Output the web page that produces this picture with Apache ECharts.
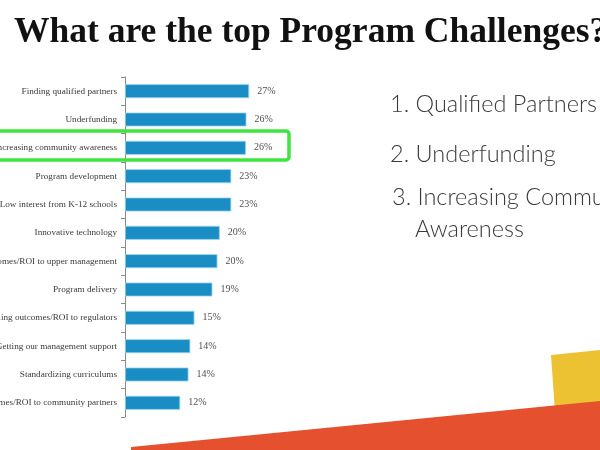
<!DOCTYPE html>
<html>
<head>
<meta charset="utf-8">
<script src="https://cdn.jsdelivr.net/npm/echarts@6/dist/echarts.min.js"></script>
<style>
html,body{margin:0;padding:0;background:#fff;}
#chart{width:600px;height:450px;}
</style>
</head>
<body>
<div id="chart"></div>
<script>
var titleText = "What are the top Program Challenges?";
var categories = [
  "Finding qualified partners",
  "Underfunding",
  "Increasing community awareness",
  "Program development",
  "Low interest from K-12 schools",
  "Innovative technology",
  "Communicating outcomes/ROI to upper management",
  "Program delivery",
  "Modeling outcomes/ROI to regulators",
  "Getting our management support",
  "Standardizing curriculums",
  "Communicating outcomes/ROI to community partners"
];
var values = [27, 26.4, 26.3, 23.1, 23.1, 20.6, 20.1, 19, 15.1, 14.2, 13.8, 12];
var valueLabels = ["27%", "26%", "26%", "23%", "23%", "20%", "20%", "19%", "15%", "14%", "14%", "12%"];
var sideList = ["1. Qualified Partners", "2. Underfunding", "3. Increasing Community", "Awareness"];

var chart = echarts.init(document.getElementById('chart'), null, {renderer: 'canvas'});
var option = {
  backgroundColor: '#ffffff',
  animation: false,
  title: {
    text: titleText,
    left: 14,
    top: 15,
    padding: 0,
    textStyle: {
      fontFamily: 'Liberation Serif',
      fontWeight: 'bold',
      fontSize: 35.5,
      color: '#111111'
    }
  },
  grid: {left: 125, top: 77, width: 276, bottom: 33, containLabel: false, outerBoundsMode: 'none'},
  xAxis: {
    type: 'value', min: 0, max: 60, show: false
  },
  yAxis: {
    type: 'category',
    data: categories,
    inverse: true,
    axisLine: {show: true, lineStyle: {color: '#8a8a8a', width: 1}},
    axisTick: {show: true, length: 4, lineStyle: {color: '#8a8a8a'}},
    axisLabel: {
      margin: 8,
      fontFamily: 'Liberation Serif',
      fontSize: 9.2,
      color: '#3a3a3a'
    }
  },
  series: [{
    type: 'bar',
    data: values,
    barWidth: 14,
    itemStyle: {color: '#1a8ec4', borderColor: '#9fd6f0', borderWidth: 0.8},
    label: {
      show: true,
      position: 'right',
      distance: 8,
      fontFamily: 'Liberation Serif',
      fontSize: 10,
      color: '#505050',
      formatter: function (p) { return valueLabels[p.dataIndex]; }
    }
  }],
  graphic: [
    {
      type: 'polygon', z: 1, silent: true,
      shape: {points: [[551, 355], [600, 350], [600, 412], [555, 412]]},
      style: {fill: '#ecc232'}
    },
    {
      type: 'polygon', z: 2, silent: true,
      shape: {points: [[131, 447], [600, 401], [600, 450], [131, 450]]},
      style: {fill: '#e5502f'}
    },
    {
      type: 'rect', z: 10, silent: true,
      shape: {x: -10, y: 131, width: 299, height: 29, r: 3},
      style: {fill: 'none', stroke: '#3fe43f', lineWidth: 3.5}
    },
    {
      type: 'text', z: 10, left: 390, top: 92,
      style: {text: sideList[0], fontFamily: 'Lato', fontWeight: 300, fontSize: 23.5, fill: '#3a3a3a'}
    },
    {
      type: 'text', z: 10, left: 390, top: 142,
      style: {text: sideList[1], fontFamily: 'Lato', fontWeight: 300, fontSize: 23.5, fill: '#3a3a3a'}
    },
    {
      type: 'text', z: 10, left: 392, top: 185,
      style: {text: sideList[2], fontFamily: 'Lato', fontWeight: 300, fontSize: 23.5, fill: '#3a3a3a'}
    },
    {
      type: 'text', z: 10, left: 415, top: 217,
      style: {text: sideList[3], fontFamily: 'Lato', fontWeight: 300, fontSize: 23.5, fill: '#3a3a3a'}
    }
  ]
};
chart.setOption(option);
</script>
</body>
</html>
